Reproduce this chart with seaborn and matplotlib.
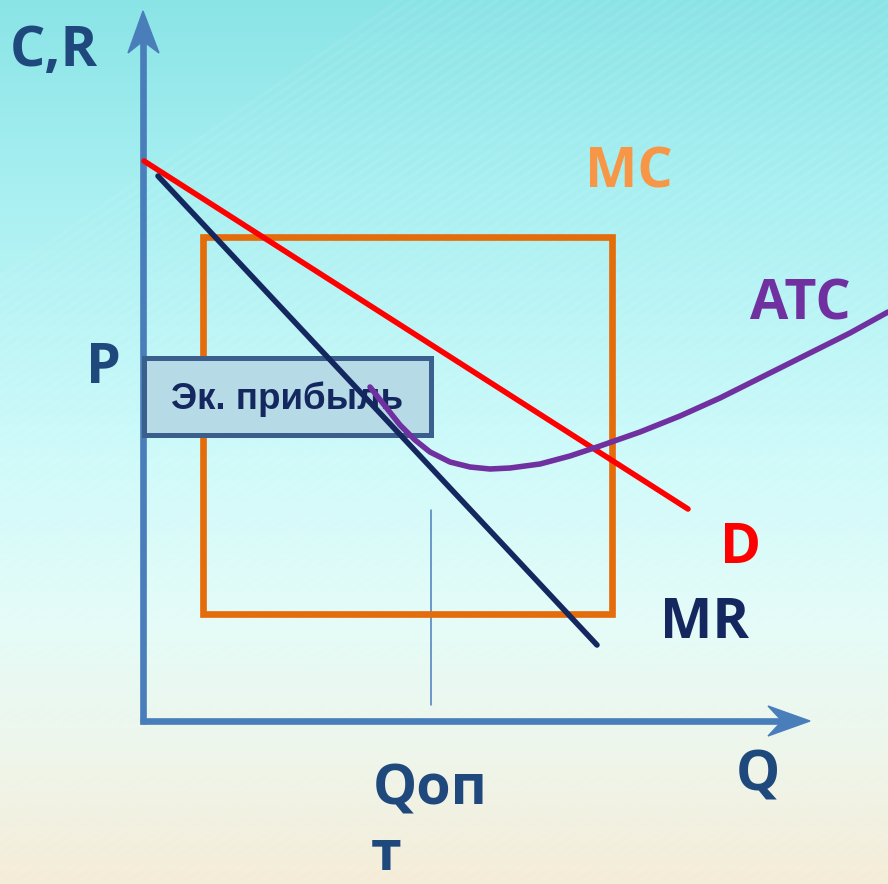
import numpy as np
import matplotlib
matplotlib.use("Agg")
import matplotlib.pyplot as plt
from matplotlib.patches import Rectangle
import seaborn as sns

sns.set_style("white")
plt.rcParams["font.family"] = ["Open Sans", "DejaVu Sans"]

# ----------------------
# Diagram data, in picture pixels (y grows downward)
# ----------------------
d_x = [144, 688]
d_y = [161, 509]
mr_x = [158, 597]
mr_y = [176, 645]
atc_x = [370, 385, 400, 415, 430, 450, 470, 490, 510, 540, 570, 600, 640, 680, 720, 760, 800, 850, 888]
atc_y = [387, 406, 425, 440, 452, 462, 467, 469, 468, 464, 456, 446, 432, 416, 398, 378, 358, 333, 312]
mc_box = [203, 237, 612, 614]        # left, top, right, bottom
profit_box = [144, 358, 431, 435]
q_opt_x = [431, 431]
q_opt_y = [510, 705]
origin = (143, 721)
y_tip = 11
x_tip = 810

# colours
axis_col = "#4a7ebb"
label_col = "#1f497d"
navy = "#14285f"
orange = "#e46c0a"
purple = "#7030a0"

fig = plt.figure(figsize=(8.88, 8.84), dpi=100)
ax = fig.add_axes([0, 0, 1, 1])
ax.set_xlim(0, 888)
ax.set_ylim(884, 0)
ax.axis("off")

# background gradient
stops_y = [0, 200, 450, 620, 750, 884]
stops_rgb = np.array([(138, 228, 230), (170, 240, 242), (205, 250, 250),
                      (228, 252, 248), (238, 246, 235), (245, 236, 215)]) / 255
yy = np.arange(884)
grad = np.stack([np.interp(yy, stops_y, stops_rgb[:, i]) for i in range(3)], axis=1)
ax.imshow(grad[:, None, :], extent=(0, 888, 884, 0), aspect="auto", zorder=0)

# faint diagonal streaks of the slide background
for x0 in range(-900, 900, 14):
    ax.plot([x0, x0 + 1300], [900, 0], color="white", lw=2.5, alpha=0.07, zorder=1)

# axes with arrow heads
ox, oy = origin
ax.plot([ox, ox], [oy + 3, y_tip + 20], color=axis_col, lw=4.8, solid_capstyle="butt", zorder=2)
ax.plot([ox - 3, x_tip - 20], [oy, oy], color=axis_col, lw=4.8, solid_capstyle="butt", zorder=2)
ax.fill([ox, ox - 15, ox, ox + 16], [y_tip, y_tip + 42, y_tip + 30, y_tip + 42], color=axis_col, zorder=2)
ax.fill([x_tip, x_tip - 42, x_tip - 28, x_tip - 42], [oy, oy - 15, oy, oy + 15], color=axis_col, zorder=2)

# Qopt guide
ax.plot(q_opt_x, q_opt_y, color=axis_col, lw=1.1, zorder=2)

# MC box
l, t, r, b = mc_box
ax.add_patch(Rectangle((l, t), r - l, b - t, fill=False, ec=orange, lw=4.8, zorder=3))

# demand line
sns.lineplot(x=d_x, y=d_y, color="#ff0000", lw=4, ax=ax, zorder=4)

# profit label box
l, t, r, b = profit_box
ax.add_patch(Rectangle((l, t), r - l, b - t, fc="#b7dbe6", ec="#3b5f8d", lw=3.6, zorder=5))
ax.text(171, 409, "Эк. прибыль", family=["Liberation Sans", "DejaVu Sans"], fontweight="bold",
        fontsize=26.5, color=navy, va="baseline", ha="left", zorder=6)

# MR and ATC
sns.lineplot(x=mr_x, y=mr_y, color=navy, lw=4, ax=ax, zorder=7)
sns.lineplot(x=atc_x, y=atc_y, color=purple, lw=4, sort=False, ax=ax, zorder=8)

# labels
def lab(x, y, s, c, fs=40):
    ax.text(x, y, s, color=c, fontsize=fs, fontweight="bold", va="baseline", ha="left", zorder=9)

lab(10, 66, "C,R", label_col)
lab(86, 383, "P", label_col)
lab(585, 187, "MC", "#f79646")
lab(750, 320, "ATC", purple)
lab(720, 563, "D", "#ff0000")
lab(660, 638, "MR", navy)
lab(736, 790, "Q", label_col)
lab(373, 805, "Qоп", label_col)
lab(371, 870, "т", label_col)

fig.savefig("out.png", dpi=100)
